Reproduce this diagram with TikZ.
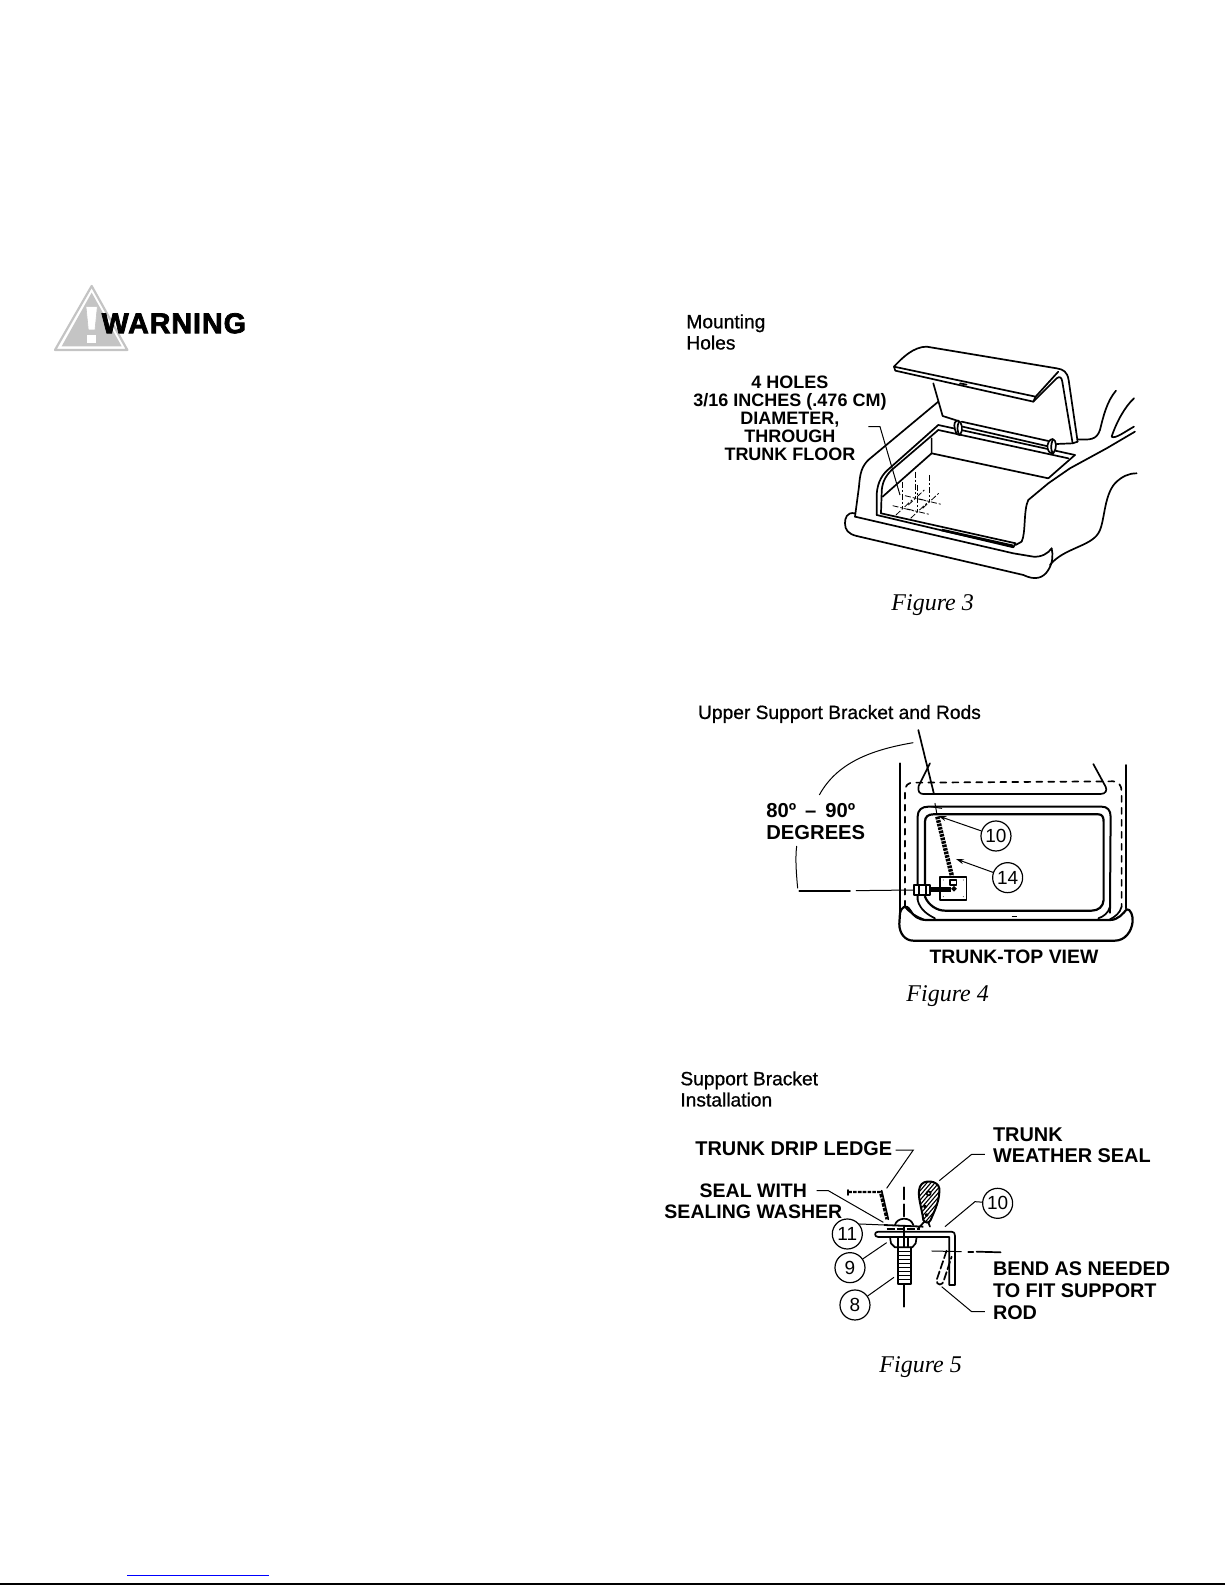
\documentclass[tikz,border=0pt]{standalone}
\usepackage{fontspec}
\setmainfont{Liberation Sans}
\newfontfamily\capfont{Liberation Serif}
\newfontfamily\headfont[FakeBold=0.8]{Liberation Sans}
\newfontfamily\warnfont[UprightFont=* Bold,FakeBold=2.6,LetterSpace=3.5]{Liberation Sans}
\usetikzlibrary{arrows.meta}
\definecolor{warngray}{HTML}{C4C4C4}
\tikzset{
    art/.style={line width=0.85pt,line join=round,line cap=round},
    thin art/.style={line width=0.5pt,line join=round,line cap=round},
    leader/.style={line width=0.5pt},
    arrowlead/.style={line width=0.5pt,-{Stealth[length=4pt,width=2.5pt]}},
    heading/.style={font=\headfont\fontsize{9.6}{10.6}\selectfont,align=left,anchor=west,inner sep=0pt},
    callout/.style={font=\bfseries\fontsize{9}{8.9}\selectfont,align=center,inner sep=0pt},
    leftcallout/.style={callout,align=left,anchor=west},
    caption/.style={font=\capfont\itshape\fontsize{12}{12}\selectfont,inner sep=0pt},
    partnum/.style={circle,draw,line width=0.6pt,minimum size=15pt,inner sep=0pt,fill=white,font=\fontsize{9.5}{10}\selectfont},
    holeline/.style={line width=0.4pt,dash pattern=on 3pt off 1pt on 1pt off 1pt},
}
\begin{document}
\begin{tikzpicture}[x=0.5pt,y=-0.5pt]
    \useasboundingbox (0,0) rectangle (1225,1585);

    % warning sign
    \begin{scope}[shift={(40,270)},scale=0.3333]
        \draw[warngray,line width=1.1pt,line join=round,fill=white] (155,48) -- (45,240) -- (262,240) -- cycle;
        \fill[warngray,line join=round] (155,68) -- (65,229) -- (245,229) -- cycle;
        \fill[white,draw=warngray,line width=0.3pt] (138,110) -- (172,110) -- (165,180) -- (145,180) -- cycle;
        \fill[white] (142,195) rectangle (167,218);
        \node[font=\warnfont\fontsize{14.3}{15}\selectfont,inner sep=0pt,anchor=west] (warnText) at (184,160) {WARNING};
    \end{scope}

    % page rules
    \coordinate (blueL) at (127,1575.5);
    \coordinate (blueR) at (269,1575.5);
    \coordinate (blackL) at (0,1584);
    \coordinate (blackR) at (1225,1584);
    \draw[blue,line width=0.55pt] (blueL) -- (blueR);
    \draw[black,line width=0.9pt] (blackL) -- (blackR);

    % Figure 3
    \begin{scope}[shift={(660,300)},scale=0.3333]
        \node[heading] (mountHead) at (78,96) {Mounting\\Holes};
        \node[callout] (holesText) at (390,355) {4 HOLES\\3/16 INCHES (.476 CM)\\DIAMETER,\\THROUGH\\TRUNK FLOOR};
        \node[caption] (figThree) at (818,914) {Figure 3};

        % lid
        \draw[art] (702,200) .. controls (725,175) and (760,140) .. (800,140) -- (1190,205) .. controls (1210,208) and (1222,215) .. (1226,240) -- (1253,425);
        \draw[art] (702,200) -- (706,212) -- (1120,305) -- (1127,290) -- (702,200);
        \draw[art] (1120,305) -- (1190,235) .. controls (1200,228) and (1205,232) .. (1207,245) -- (1238,430);
        \draw[art] (1127,290) -- (1195,215);
        \draw[art] (820,250) -- (848,348) -- (892,362);
        \draw[art] (900,250) -- (920,254);
        % hinge rod
        \draw[art] (835,375) -- (1245,465);
        \draw[art] (835,390) -- (1225,475);
        \draw[art] (905,365) -- (1165,423);
        \draw[art] (908,380) -- (1168,440);
        \draw[art] (1190,432) -- (1238,430) -- (1253,425);
        \draw[art,fill=white] (885,388) .. controls (880,370) and (885,362) .. (895,362) .. controls (905,365) and (912,390) .. (900,405) .. controls (890,405) and (885,395) .. (885,388);
        \draw[art] (897,365) .. controls (890,380) and (892,395) .. (898,404);
        \draw[art,fill=white] (1163,445) .. controls (1160,430) and (1170,417) .. (1178,417) .. controls (1190,420) and (1192,445) .. (1180,460) .. controls (1170,460) and (1165,455) .. (1163,445);
        \draw[art] (1178,420) .. controls (1172,435) and (1172,450) .. (1178,458);
        % body shell and trunk lip
        \draw[art] (835,305) -- (625,480) .. controls (605,500) and (600,520) .. (597,560) -- (585,650);
        \draw[art] (835,375) -- (683,510) .. controls (660,530) and (650,560) .. (650,590) -- (650,645);
        \draw[art] (835,390) -- (695,510) .. controls (675,530) and (665,550) .. (665,580) -- (663,640);
        \draw[art] (815,415) -- (815,460) -- (668,590);
        \draw[art] (815,460) -- (1165,535);
        \draw[art] (1245,465) -- (1165,535);
        \draw[art] (650,645) -- (1060,742) -- (1067,730) -- (663,640);
        \draw[line width=1.3pt] (845,690) -- (1060,738);
        \draw[art] (1425,395) -- (1340,445) -- (1230,505) -- (1165,550) -- (1105,600) .. controls (1090,630) and (1098,700) .. (1085,725) -- (1067,735);
        % bumper
        \draw[art] (585,650) -- (1060,760) -- (1120,770) .. controls (1145,772) and (1165,760) .. (1175,745);
        \draw[art] (585,640) .. controls (560,635) and (555,655) .. (555,670) .. controls (555,690) and (565,702) .. (590,708) -- (1090,825) .. controls (1125,842) and (1150,835) .. (1165,810) .. controls (1178,790) and (1180,765) .. (1175,745);
        \draw[art] (1170,795) .. controls (1210,745) and (1290,740) .. (1315,700) .. controls (1335,670) and (1330,590) .. (1365,550) .. controls (1385,530) and (1405,520) .. (1430,520);
        % rear window
        \draw[art] (1253,418) .. controls (1290,420) and (1310,420) .. (1320,390) .. controls (1330,350) and (1340,305) .. (1368,272);
        \draw[art] (1422,295) .. controls (1395,320) and (1370,365) .. (1355,410) .. controls (1365,418) and (1395,395) .. (1422,380);
        % holes
        \coordinate (holesLeadA) at (625,380);
        \coordinate (holesLeadB) at (660,380);
        \coordinate (holesLeadC) at (720,585);
        \draw[leader] (holesLeadA) -- (holesLeadB) -- (holesLeadC);
        \foreach \hx/\hy/\hname in {728/625/A,772/635/B,765/595/C,808/605/D}{
            \fill (\hx,\hy) circle (1pt);
            \coordinate (hole\hname) at (\hx,\hy);
            \draw[holeline] (\hx,\hy-80) -- (\hx,\hy);
            \draw[holeline] (\hx-30,\hy-8) -- (\hx+35,\hy+8);
            \draw[holeline] (\hx-20,\hy+20) -- (\hx+28,\hy-25);
        }
    \end{scope}

    % Figure 4
    \begin{scope}[shift={(680,700)},scale=0.3333]
        \node[font=\headfont\fontsize{9.6}{10}\selectfont,inner sep=0pt,anchor=west] (upperHead) at (53,42) {Upper Support Bracket and Rods};
        \node[leftcallout,font=\bfseries\fontsize{10.1}{10.8}\selectfont] (degText) at (258,365) {80º\hspace{4.5pt}--\hspace{4.5pt}90º\\DEGREES};
        \node[callout,font=\bfseries\fontsize{9.7}{11}\selectfont] (topView) at (1002,770) {TRUNK-TOP VIEW};
        \node[caption] (figFour) at (803,888) {Figure 4};
        \node[partnum] (numTen) at (948,408) {10};
        \node[partnum] (numFourteen) at (983,533) {14};

        % side panels and bracket
        \draw[art] (660,190) -- (660,640);
        \draw[art] (1338,195) -- (1338,625);
        \draw[art] (750,190) -- (716,258) .. controls (712,275) and (720,282) .. (730,282) -- (1262,282) .. controls (1278,282) and (1282,270) .. (1277,260) -- (1240,192);
        \draw[art,dashed] (675,620) -- (675,275) .. controls (675,255) and (685,248) .. (700,248) -- (1300,244) .. controls (1315,245) and (1325,255) .. (1325,275) -- (1325,620);
        % trunk opening
        \draw[line width=1pt,line join=round] (713,600) -- (713,350) .. controls (713,330) and (725,320) .. (745,320) -- (1265,320) .. controls (1282,320) and (1292,330) .. (1292,350) -- (1290,640);
        \draw[line width=1.1pt,line join=round] (735,590) -- (735,365) .. controls (735,350) and (745,343) .. (760,343) -- (1255,343) .. controls (1266,343) and (1271,350) .. (1271,365) -- (1271,600) .. controls (1270,620) and (1255,632) .. (1235,632) -- (795,632) .. controls (770,632) and (745,615) .. (735,590);
        \draw[art] (713,600) .. controls (720,630) and (745,645) .. (765,655);
        \draw[art] (1290,620) .. controls (1285,640) and (1270,650) .. (1255,655);
        \draw[art] (675,620) .. controls (690,640) and (710,650) .. (730,658);
        \draw[art] (1325,620) .. controls (1320,640) and (1305,650) .. (1290,658);
        % bumper
        \draw[line width=1.1pt,line join=round] (660,640) .. controls (665,620) and (678,612) .. (690,630) .. controls (700,648) and (715,660) .. (740,660) -- (1290,660) .. controls (1315,660) and (1330,640) .. (1340,628) .. controls (1352,625) and (1360,650) .. (1358,665) .. controls (1355,695) and (1335,722) .. (1305,722) -- (700,722) .. controls (675,722) and (658,700) .. (658,672) -- (660,640);
        \draw[line width=0.7pt] (995,650) -- (1012,650);
        % rod and plate
        \draw[line width=2.2pt,dash pattern=on 1.3pt off 0.5pt] (772,350) -- (820,545);
        \draw[art,fill=white] (780,530) rectangle (860,600);
        \foreach \px/\py in {790/540,850/540,790/590,850/590}{
            \fill (\px,\py) circle (0.7pt);
        }
        \draw[line width=2.2pt] (750,568) -- (812,568);
        \draw[art,fill=white] (811,540) rectangle (830,556);
        \draw[line width=1pt,fill=white] (822,566) circle (2.2pt);
        \fill (822,566) circle (0.8pt);
        \draw[art,fill=white] (702,556) rectangle (750,584);
        \draw[art] (716,556) -- (716,584);
        \draw[art] (738,556) -- (738,584);
        % top hole marks
        \draw[thin art] (765,310) -- (770,338);
        \draw[thin art] (752,320) -- (785,325);
        % leaders
        \coordinate (tenTip) at (775,348);
        \coordinate (fourteenTip) at (828,477);
        \coordinate (arcA) at (418,285);
        \coordinate (arcB) at (700,128);
        \coordinate (poleA) at (715,90);
        \coordinate (poleB) at (762,282);
        \coordinate (lowA) at (350,438);
        \coordinate (lowB) at (353,565);
        \coordinate (lowC) at (358,572);
        \coordinate (lowD) at (510,572);
        \coordinate (lowE) at (528,572);
        \coordinate (lowF) at (702,570);
        \draw[arrowlead] (numTen) -- (tenTip);
        \draw[arrowlead] (numFourteen) -- (fourteenTip);
        \draw[leader] (arcA) .. controls (470,190) and (570,150) .. (arcB);
        \draw[art] (poleA) -- (poleB);
        \draw[leader] (lowA) .. controls (345,480) and (350,530) .. (lowB);
        \draw[art] (lowC) -- (lowD);
        \draw[leader] (lowE) -- (lowF);
    \end{scope}

    % Figure 5
    \begin{scope}[shift={(660,1060)},scale=0.3333]
        \node[heading] (supportHead) at (60,87) {Support Bracket\\Installation};
        \node[callout,anchor=west,font=\bfseries\fontsize{9.95}{10.6}\selectfont] (dripText) at (105,265) {TRUNK DRIP LEDGE};
        \node[leftcallout,font=\bfseries\fontsize{9.95}{10.6}\selectfont] (weatherText) at (998,255) {TRUNK\\WEATHER SEAL};
        \node[callout,align=center,font=\bfseries\fontsize{9.75}{10.6}\selectfont] (sealText) at (280,425) {SEAL WITH\\SEALING WASHER};
        \node[leftcallout,font=\bfseries\fontsize{9.9}{11}\selectfont] (bendText) at (998,692) {BEND AS NEEDED\\TO FIT SUPPORT\\ROD};
        \node[caption] (figFive) at (782,921) {Figure 5};
        \node[partnum] (numEleven) at (562,522) {11};
        \node[partnum] (numNine) at (570,623) {9};
        \node[partnum] (numEight) at (585,735) {8};
        \node[partnum] (numTenB) at (1013,430) {10};

        % bracket
        \draw[art] (875,515) -- (655,515) .. controls (642,515) and (642,531) .. (655,531) -- (868,531) -- (868,675) -- (885,675) -- (885,527) .. controls (885,520) and (882,515) .. (875,515);
        \draw[art,dash pattern=on 4pt off 1.5pt] (860,572) -- (830,660) .. controls (828,678) and (850,678) .. (852,660) -- (875,590);
        % bolt and nut
        \draw[art,fill=white] (690,531) -- (770,531) -- (767,550) -- (757,562) -- (705,562) -- (693,550) -- cycle;
        \draw[art] (715,531) -- (715,562);
        \draw[art] (745,531) -- (745,562);
        \draw[art] (715,562) -- (715,672) -- (752,672) -- (752,562);
        \foreach \ty in {575,587,...,665}{
            \draw[thin art] (715,\ty) -- (752,\ty);
        }
        \draw[art] (733,672) -- (733,740);
        \draw[art,dash pattern=on 6pt off 2.5pt] (733,382) -- (733,470);
        \draw[art] (733,500) -- (733,560);
        % washer and dome
        \draw[art] (705,495) .. controls (710,472) and (752,468) .. (760,495);
        \draw[line width=0.9pt] (672,495) -- (790,500);
        \draw[line width=0.9pt,dash pattern=on 4pt off 1pt] (680,508) -- (780,508);
        % drip ledge
        \draw[line width=1.2pt,dash pattern=on 1.8pt off 0.6pt] (565,396) -- (660,396) -- (680,478);
        \draw[art] (565,390) -- (565,405);
        \draw[art] (665,392) -- (685,478);
        % seal
        \def\sealpath{(838,385) .. controls (835,362) and (790,355) .. (780,380) .. controls (770,405) and (785,440) .. (790,480) .. controls (795,490) and (808,490) .. (812,480) .. controls (825,450) and (840,420) .. (838,385) -- cycle}
        \begin{scope}
            \clip \sealpath;
            \foreach \sh in {-120,-108,...,120}{
                \draw[line width=0.55pt] (760+\sh,500) -- (880+\sh,360);
            }
        \end{scope}
        \draw[line width=1pt] \sealpath;
        \draw[fill=white,art] (806,400) circle (3pt);
        \draw[art,fill=white] (795,440) circle (1.5pt);
        \draw[art,fill=white] (800,465) circle (1.5pt);
        \draw[art] (793,485) -- (775,505);
        \draw[art] (805,487) -- (810,500);
        % leaders
        \coordinate (dripA) at (707,270);
        \coordinate (dripB) at (760,270);
        \coordinate (dripC) at (680,385);
        \coordinate (sealA) at (470,392);
        \coordinate (sealB) at (505,392);
        \coordinate (sealC) at (670,487);
        \coordinate (weatherA) at (975,283);
        \coordinate (weatherB) at (935,283);
        \coordinate (weatherC) at (838,362);
        \coordinate (elevenEnd) at (672,495);
        \coordinate (nineEnd) at (680,548);
        \coordinate (eightEnd) at (702,652);
        \coordinate (tenEnd) at (855,500);
        \coordinate (tenKnee) at (945,425);
        \coordinate (bendA) at (815,573);
        \coordinate (bendB) at (905,575);
        \coordinate (bendC) at (925,575);
        \coordinate (bendD) at (940,575);
        \coordinate (bendE) at (950,575);
        \coordinate (bendF) at (1022,577);
        \coordinate (rodA) at (845,680);
        \coordinate (rodB) at (935,755);
        \coordinate (rodC) at (975,755);
        \draw[leader] (dripA) -- (dripB) -- (dripC);
        \draw[leader] (sealA) -- (sealB) -- (sealC);
        \draw[leader] (weatherA) -- (weatherB) -- (weatherC);
        \draw[leader] (numEleven.40) -- (elevenEnd);
        \draw[leader] (numNine) -- (nineEnd);
        \draw[leader] (numEight) -- (eightEnd);
        \draw[leader] (numTenB) -- (tenKnee) -- (tenEnd);
        \draw[leader] (bendA) -- (bendB);
        \draw[art] (bendC) -- (bendD);
        \draw[art] (bendE) -- (bendF);
        \draw[leader] (rodA) -- (rodB) -- (rodC);
    \end{scope}
\end{tikzpicture}
\end{document}
